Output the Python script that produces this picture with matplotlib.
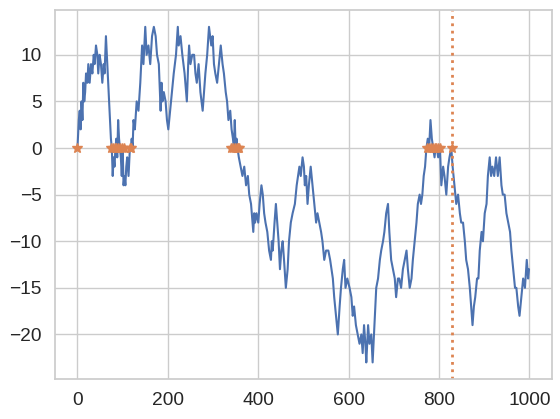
import matplotlib
matplotlib.use("Agg")
import matplotlib.pyplot as plt
import seaborn as sns

# random walk (step index, position)
steps = [0, 3, 5, 7, 9, 11, 13, 15, 17, 19, 22, 24, 27, 30, 33, 36, 38, 41, 44, 46,
         49, 52, 55, 58, 60, 63, 66, 70, 74, 76, 78, 80, 82, 84, 86, 88, 90, 92, 94, 96,
         98, 100, 102, 104, 106, 108, 110, 113, 116, 118, 120, 122, 124, 127, 131, 135, 139, 141, 143, 146,
         150, 153, 157, 161, 165, 169, 173, 176, 180, 184, 186, 188, 191, 195, 198, 201, 205, 209, 213, 218,
         222, 224, 228, 232, 237, 242, 245, 247, 250, 254, 258, 261, 264, 268, 272, 277, 280, 283, 287, 291,
         296, 299, 302, 305, 309, 313, 317, 321, 324, 328, 331, 334, 338, 341, 344, 346, 348, 350, 352, 354,
         357, 361, 365, 369, 373, 377, 380, 384, 389, 391, 393, 396, 400, 403, 407, 410, 413, 416, 420, 424,
         428, 430, 432, 436, 439, 442, 445, 448, 451, 454, 457, 461, 465, 468, 472, 476, 481, 485, 491, 494,
         498, 501, 503, 506, 509, 512, 516, 520, 524, 528, 531, 535, 539, 542, 546, 550, 555, 559, 565, 568,
         572, 576, 580, 583, 587, 590, 593, 597, 602, 606, 609, 612, 616, 620, 624, 628, 631, 634, 637, 639,
         643, 646, 650, 653, 657, 661, 665, 669, 672, 676, 679, 683, 687, 690, 694, 698, 702, 705, 709, 712,
         716, 720, 724, 728, 731, 735, 739, 742, 746, 750, 753, 757, 760, 763, 766, 769, 772, 775, 778, 781,
         784, 787, 790, 792, 795, 798, 802, 805, 809, 812, 816, 820, 823, 827, 830, 834, 838, 842, 846, 849,
         853, 857, 860, 864, 868, 871, 874, 877, 880, 884, 887, 890, 894, 897, 901, 905, 908, 912, 915, 918,
         922, 926, 930, 934, 938, 941, 945, 949, 953, 957, 960, 964, 968, 971, 975, 978, 982, 986, 990, 994,
         997, 999]
walk = [0, 3, 4, 2, 5, 3, 7, 5, 6, 8, 7, 9, 7, 9, 8, 10, 9, 11, 10, 8,
        10, 9, 7, 9, 8, 12, 9, 5, 1, 0, -3, -1, -2, 0, 1, -1, 3, 1, 0, -1,
        -3, 0, -4, -3, -4, -2, -1, -3, 0, 0, 1, 0, 3, 2, 5, 4, 7, 9, 11, 9,
        13, 10, 11, 9, 12, 13, 12, 10, 9, 4, 7, 5, 6, 5, 3, 2, 4, 6, 8, 10,
        13, 11, 12, 10, 8, 5, 9, 11, 9, 10, 10, 8, 7, 9, 6, 4, 6, 8, 10, 13,
        11, 12, 9, 8, 7, 9, 11, 9, 8, 6, 5, 3, 4, 2, 1, 0, 3, 0, 1, 0,
        -1, -2, -3, -2, -4, -3, -5, -6, -9, -7, -8, -7, -8, -6, -4, -5, -7, -8, -9, -11,
        -12, -10, -11, -8, -6, -8, -10, -13, -11, -10, -12, -15, -13, -10, -8, -7, -6, -4, -2, -3,
        -1, -2, -4, -3, -6, -4, -2, -4, -6, -8, -7, -8, -9, -10, -12, -11, -11, -12, -14, -16,
        -18, -20, -17, -15, -13, -12, -15, -14, -15, -16, -18, -17, -19, -20, -21, -20, -22, -19, -21, -23,
        -19, -21, -20, -23, -19, -15, -14, -12, -11, -10, -9, -7, -6, -9, -12, -13, -14, -16, -14, -14,
        -15, -13, -12, -11, -13, -15, -14, -12, -10, -8, -6, -5, -6, -5, -3, -2, 0, 1, 0, 3,
        1, 0, -1, 0, 0, -1, 0, -4, -2, -3, -5, -2, -1, 0, -2, -4, -6, -5, -7, -8,
        -8, -10, -12, -13, -15, -17, -19, -17, -16, -14, -14, -11, -9, -10, -7, -6, -3, -1, -3, -2,
        -3, -1, -3, -1, -4, -5, -5, -7, -8, -9, -11, -13, -15, -15, -17, -18, -16, -14, -15, -12,
        -14, -13]

# steps where the walk is back at zero
zero_steps = [0, 74, 78, 82, 86, 90, 94, 98, 102, 116, 118, 340, 344, 348, 352, 356, 358,
              774, 778, 782, 786, 790, 794, 798, 802, 828]
last_zero = 828

sns.set_theme(style="whitegrid", font_scale=1.25)
plt.rcParams['font.family'] = ['Liberation Sans', 'DejaVu Sans']

fig = plt.figure(figsize=(5.6, 4.19), dpi=100)
ax = fig.add_axes([0.098, 0.095, 0.887, 0.881])
ax.plot(steps, walk, color="C0", lw=1.5)
ax.plot(zero_steps, [0] * len(zero_steps), "*", color="C1", ms=7)
ax.axvline(last_zero, color="C1", ls=":", lw=2)
ax.set_xticks([0, 200, 400, 600, 800, 1000])
ax.set_yticks([-20, -15, -10, -5, 0, 5, 10])

plt.savefig("out.png")
